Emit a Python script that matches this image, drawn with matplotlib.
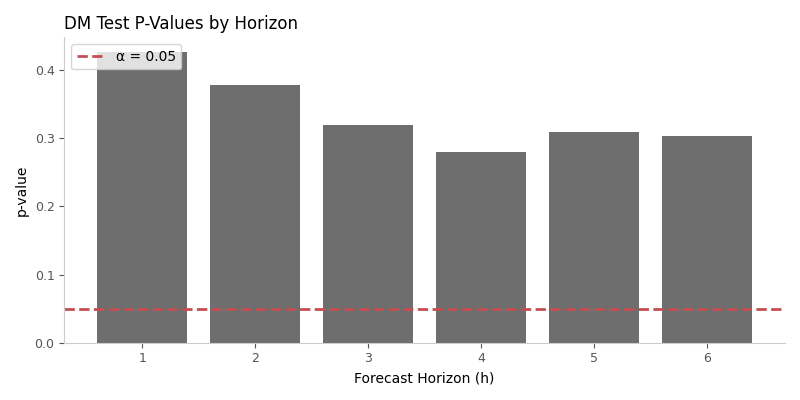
import matplotlib
matplotlib.use('Agg')
import matplotlib.pyplot as plt
from matplotlib.ticker import MultipleLocator

horizons = [1, 2, 3, 4, 5, 6]
p_values = [0.427, 0.379, 0.320, 0.280, 0.310, 0.304]
alpha = 0.05

fig, ax = plt.subplots(figsize=(8, 4), dpi=100)
ax.bar(horizons, p_values, width=0.8, color='#6e6e6e')
ax.axhline(alpha, color='#c44e52', linestyle='--', linewidth=2, label='α = 0.05')

ax.set_title('DM Test P-Values by Horizon', loc='left', fontsize=12)
ax.set_xlabel('Forecast Horizon (h)')
ax.set_ylabel('p-value')
ax.set_xticks(horizons)
ax.yaxis.set_major_locator(MultipleLocator(0.1))

for side in ['top', 'right']:
    ax.spines[side].set_visible(False)
for side in ['left', 'bottom']:
    ax.spines[side].set_color('#cccccc')
ax.tick_params(colors='#555555', labelsize=9)

ax.legend(loc='upper left')
plt.tight_layout()
plt.savefig('out.png')
